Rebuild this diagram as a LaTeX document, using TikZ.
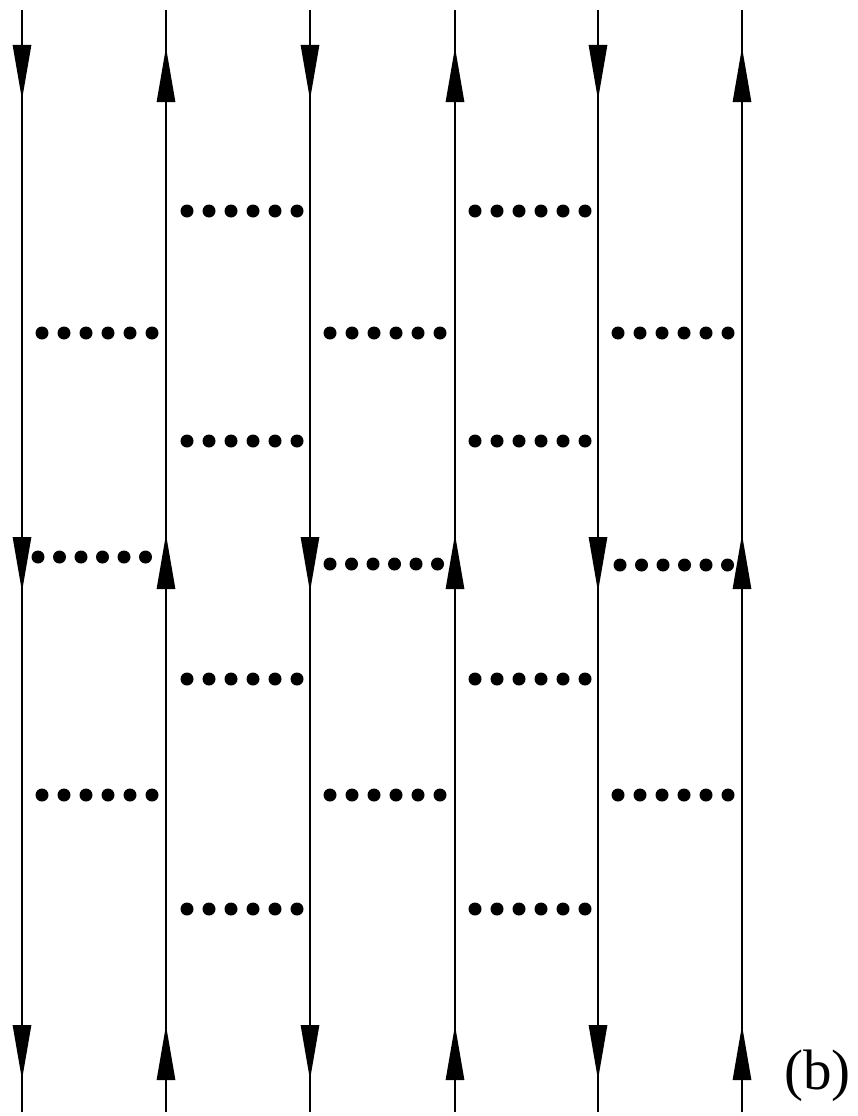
\documentclass[tikz,border=0pt]{standalone}
\usepackage{fontspec}
\setmainfont{Liberation Serif}
\usetikzlibrary{arrows.meta,decorations.markings}

\begin{document}
\begin{tikzpicture}[x=1pt, y=-1pt,
  head/.tip={Triangle[length=55pt, width=18pt]},
  strand/.style={line width=2.9pt, draw=black},
  down strand/.style={strand, postaction={decorate}, decoration={markings,
      mark=at position 90pt with {\arrow{head}},
      mark=at position 582pt with {\arrow{head}},
      mark=at position 1070pt with {\arrow{head}}}},
  up strand/.style={strand, postaction={decorate}, decoration={markings,
      mark=at position 87pt with {\arrow{head}},
      mark=at position 578pt with {\arrow{head}},
      mark=at position 1065pt with {\arrow{head}}}},
  dot/.style={fill=black, draw=none}
]
\useasboundingbox (0,0) rectangle (858,1116);

% Strand end points
\foreach \n/\x in {1/22, 2/166, 3/310, 4/455, 5/598, 6/742} {
  \coordinate (t\n) at (\x,10);
  \coordinate (b\n) at (\x,1112);
}

% Strands (odd ones run down, even ones run up)
\draw[down strand] (t1) -- (b1);
\draw[up strand] (b2) -- (t2);
\draw[down strand] (t3) -- (b3);
\draw[up strand] (b4) -- (t4);
\draw[down strand] (t5) -- (b5);
\draw[up strand] (b6) -- (t6);

% Dotted rungs between strands 2-3 and 4-5
\foreach \x in {187, 475}
  \foreach \y in {211, 441, 679, 909}
    \foreach \i in {0,...,5}
      \fill[dot] (\x+22*\i,\y) circle (6.5);

% Dotted rungs between strands 1-2, 3-4 and 5-6
\foreach \x in {42, 330, 618}
  \foreach \y in {333, 795}
    \foreach \i in {0,...,5}
      \fill[dot] (\x+22*\i,\y) circle (6.5);

% Middle row
\foreach \x/\y in {38/557, 330/564, 620/565}
  \foreach \i in {0,...,5}
    \fill[dot] (\x+21.5*\i,\y) circle (6.5);

% Label
\node[anchor=base west, inner sep=0pt, font=\fontsize{57}{57}\selectfont] (lab) at (784,1089) {(b)};

\end{tikzpicture}
\end{document}
